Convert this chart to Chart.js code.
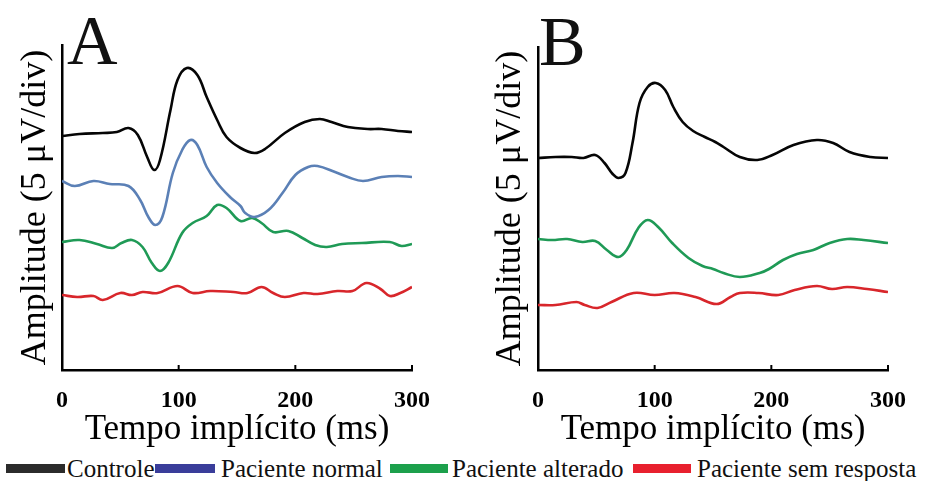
<!DOCTYPE html>
<html lang="pt">
<head>
<meta charset="utf-8">
<title>Tempo implícito</title>
<script src="https://cdn.jsdelivr.net/npm/chart.js@4.4.1/dist/chart.umd.min.js"></script>
<style>
  html, body { margin: 0; padding: 0; background: #fff; }
  #wrap { position: relative; width: 925px; height: 481px; overflow: hidden;
          font-family: 'Liberation Serif', 'Times New Roman', serif; color: #111; }
  canvas { position: absolute; top: 0; }
  #grafA { left: 0; }
  #grafB { left: 462px; }
  .letra { position: absolute; font-size: 70px; line-height: 70px; }
  .leg { position: absolute; top: 456px; font-size: 25px; line-height: 25px; white-space: nowrap; }
  .caixa { position: absolute; top: 464px; height: 9px; }
</style>
</head>
<body>
<div id="wrap">
  <canvas id="grafA" width="462" height="455"></canvas>
  <canvas id="grafB" width="463" height="455"></canvas>
  <div class="letra" style="left:67px; top:6px;">A</div>
  <div class="letra" style="left:539px; top:7px;">B</div>

  <div class="caixa" style="left:6px; width:59px; background:#2b2b2b;"></div>
  <div class="leg" style="left:67px;">Controle</div>
  <div class="caixa" style="left:155px; width:60px; background:#3a3d9a;"></div>
  <div class="leg" style="left:221px;">Paciente normal</div>
  <div class="caixa" style="left:390px; width:58px; background:#1ca04c;"></div>
  <div class="leg" style="left:452px;">Paciente alterado</div>
  <div class="caixa" style="left:633px; width:58px; background:#e8202e;"></div>
  <div class="leg" style="left:697px;">Paciente sem resposta</div>
</div>

<script>
// Tempo (ms) e amplitude (unidades arbitrárias, 5 µV/div) de cada traçado
const tA_controle = [0, 15, 35, 47, 57, 65, 73, 79, 84, 93, 99, 107, 116, 124, 133, 141, 153, 165, 174, 191, 208, 221, 231, 245, 262, 274, 288, 300];
const vA_controle = [23.4, 23.6, 23.7, 23.8, 24.2, 23.5, 21.3, 20.0, 21.0, 26.0, 29.0, 30.2, 29.5, 27.3, 25.0, 23.3, 22.2, 21.7, 22.1, 23.7, 24.8, 25.1, 24.8, 24.3, 24.1, 24.1, 23.9, 23.8];

const tA_normal = [0, 11, 27, 41, 57, 67, 74, 80, 86, 95, 103, 110, 116, 124, 133, 144, 153, 157, 165, 177, 189, 200, 211, 219, 234, 245, 258, 274, 288, 300];
const vA_normal = [18.9, 18.4, 18.9, 18.6, 18.4, 17.0, 15.3, 14.5, 15.3, 19.7, 22.0, 23.0, 22.5, 20.3, 18.7, 17.3, 16.4, 15.7, 15.3, 16.0, 17.7, 19.5, 20.3, 20.4, 19.8, 19.3, 18.9, 19.3, 19.4, 19.3];

const tA_alterado = [0, 15, 30, 43, 51, 60, 69, 77, 84, 91, 103, 112, 124, 133, 141, 153, 163, 171, 181, 194, 206, 217, 227, 240, 257, 281, 291, 300];
const vA_alterado = [12.8, 13.0, 12.6, 12.2, 12.7, 13.0, 12.3, 10.7, 9.9, 10.7, 13.7, 14.7, 15.4, 16.5, 16.2, 14.9, 15.2, 14.7, 13.8, 13.9, 13.2, 12.5, 12.3, 12.6, 12.7, 12.8, 12.4, 12.6];

const tA_semResp = [0, 13, 27, 35, 50, 60, 69, 82, 99, 112, 127, 147, 159, 171, 181, 191, 207, 219, 236, 249, 261, 273, 281, 290, 300];
const vA_semResp = [7.5, 7.3, 7.4, 7.0, 7.7, 7.5, 7.8, 7.7, 8.4, 7.7, 7.9, 7.8, 7.7, 8.3, 7.7, 7.3, 7.7, 7.6, 7.9, 7.9, 8.7, 8.1, 7.4, 7.7, 8.3];

const tB_controle = [0, 15, 29, 39, 49, 57, 64, 69, 75, 81, 87, 94, 101, 109, 116, 124, 133, 143, 152, 159, 173, 188, 201, 219, 239, 253, 267, 285, 300];
const vB_controle = [21.2, 21.3, 21.3, 21.2, 21.5, 20.7, 19.6, 19.2, 19.7, 22.7, 26.7, 28.3, 28.7, 28.0, 26.3, 24.8, 23.9, 23.3, 22.8, 22.3, 21.3, 21.0, 21.5, 22.5, 23.0, 22.7, 21.8, 21.3, 21.2];

const tB_alterado = [0, 12, 25, 38, 49, 59, 69, 76, 86, 94, 103, 115, 129, 141, 150, 159, 173, 190, 198, 210, 222, 236, 250, 265, 279, 300];
const vB_alterado = [13.1, 13.0, 13.1, 12.8, 12.9, 12.0, 11.3, 12.0, 14.2, 15.0, 14.3, 12.7, 11.2, 10.4, 10.1, 9.7, 9.3, 9.7, 10.1, 11.0, 11.6, 12.0, 12.7, 13.1, 13.0, 12.7];

const tB_semResp = [0, 15, 33, 40, 51, 63, 82, 100, 117, 135, 153, 165, 173, 189, 206, 220, 239, 252, 265, 282, 300];
const vB_semResp = [6.5, 6.5, 6.8, 6.5, 6.2, 6.8, 7.7, 7.5, 7.7, 7.3, 6.6, 7.3, 7.7, 7.7, 7.5, 8.0, 8.4, 8.1, 8.3, 8.1, 7.8];

const ticksTempo = [0, 100, 200, 300];

const fonte = "'Liberation Serif', 'Times New Roman', serif";
const cores = { controle: '#050505', normal: '#5b80b6', alterado: '#1f9a56', semResp: '#d8262b' };

function pontos(t, v) {
    return t.map((x, i) => ({ x: x, y: v[i] }));
}

function traco(nome, t, v, cor) {
    return {
        label: nome,
        data: pontos(t, v),
        borderColor: cor,
        borderWidth: 2.6,
        pointRadius: 0,
        fill: false,
        tension: 0.4,
        borderJoinStyle: 'round'
    };
}

// marquinhas do eixo x voltadas para dentro da área do gráfico
const marcasInternas = {
    id: 'marcasInternas',
    afterDraw(chart) {
        const { ctx, chartArea } = chart;
        const x = chart.scales.x;
        ctx.save();
        ctx.strokeStyle = '#000';
        ctx.lineWidth = 2;
        ticksTempo.forEach(v => {
            const px = x.getPixelForValue(v);
            ctx.beginPath();
            ctx.moveTo(px, chartArea.bottom);
            ctx.lineTo(px, chartArea.bottom - 5);
            ctx.stroke();
        });
        ctx.restore();
    }
};

function montarGrafico(id, datasets, pad, larguraY, yMax) {
    const ctx = document.getElementById(id).getContext('2d');
    return new Chart(ctx, {
        type: 'line',
        data: { datasets: datasets },
        plugins: [marcasInternas],
        options: {
            responsive: false,
            animation: false,
            events: [],
            layout: { padding: pad },
            plugins: { legend: { display: false }, tooltip: { enabled: false } },
            scales: {
                x: {
                    type: 'linear',
                    min: 0,
                    max: 300,
                    afterFit: s => { s.height = 85; },
                    afterBuildTicks: s => { s.ticks = ticksTempo.map(v => ({ value: v })); },
                    border: { display: true, color: '#000', width: 2.5 },
                    grid: { display: false },
                    ticks: {
                        color: '#000',
                        padding: 8,
                        maxRotation: 0,
                        font: { family: fonte, size: 24, weight: 'bold' }
                    },
                    title: {
                        display: true,
                        text: 'Tempo implícito (ms)',
                        color: '#000',
                        font: { family: fonte, size: 35 },
                        padding: { top: 0, bottom: 4 }
                    }
                },
                y: {
                    min: 0,
                    max: yMax,
                    afterFit: s => { s.width = larguraY; },
                    border: { display: true, color: '#000', width: 2.5 },
                    grid: { display: false },
                    ticks: { display: false },
                    title: {
                        display: true,
                        text: 'Amplitude (5 μV/div)',
                        color: '#000',
                        font: { family: fonte, size: 36 },
                        padding: { top: 0, bottom: 0 }
                    }
                }
            }
        }
    });
}

montarGrafico('grafA', [
    traco('Controle', tA_controle, vA_controle, cores.controle),
    traco('Paciente normal', tA_normal, vA_normal, cores.normal),
    traco('Paciente alterado', tA_alterado, vA_alterado, cores.alterado),
    traco('Paciente sem resposta', tA_semResp, vA_semResp, cores.semResp)
], { top: 45, right: 50, bottom: 0, left: 14 }, 48, 32.5);

montarGrafico('grafB', [
    traco('Controle', tB_controle, vB_controle, cores.controle),
    traco('Paciente alterado', tB_alterado, vB_alterado, cores.alterado),
    traco('Paciente sem resposta', tB_semResp, vB_semResp, cores.semResp)
], { top: 47, right: 37, bottom: 0, left: 27 }, 49, 32.3);
</script>
</body>
</html>
